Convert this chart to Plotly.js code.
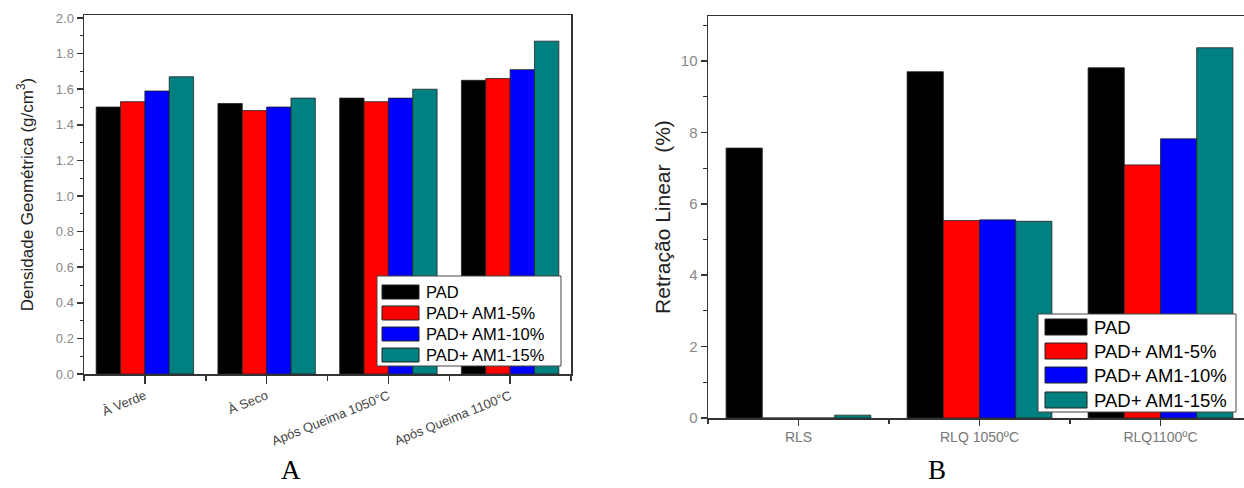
<!DOCTYPE html>
<html>
<head>
<meta charset="utf-8">
<script src="https://cdn.plot.ly/plotly-3.0.1.min.js"></script>
<style>
html,body{margin:0;padding:0;overflow:hidden;background:#fff;width:1244px;height:488px;}
#chart{width:1260px;height:488px;}
</style>
</head>
<body>
<div id="chart"></div>
<script>
// ---- Data ----
const seriesNames = ["PAD", "PAD+ AM1-5%", "PAD+ AM1-10%", "PAD+ AM1-15%"];
const seriesColors = ["#000000", "#ff0000", "#0000ff", "#008080"];

// Chart A: Densidade Geométrica
const catsA = ["À Verde", "À Seco", "Após Queima 1050°C", "Após Queima 1100°C"];
const padA   = [1.50, 1.52, 1.55, 1.65];
const am5A   = [1.53, 1.48, 1.53, 1.66];
const am10A  = [1.59, 1.50, 1.55, 1.71];
const am15A  = [1.67, 1.55, 1.60, 1.87];

// Chart B: Retração Linear
const catsB = ["RLS", "RLQ 1050ºC", "RLQ1100ºC"];
const padB   = [7.56, 9.70, 9.81];
const am5B   = [0.00, 5.53, 7.09];
const am10B  = [0.00, 5.55, 7.82];
const am15B  = [0.08, 5.51, 10.37];

const seriesA = [padA, am5A, am10A, am15A];
const seriesB = [padB, am5B, am10B, am15B];

// ---- Layout helpers ----
const W = 1260, H = 488;
const px = x => x / W;
const py = y => 1 - y / H;

const traces = [];
seriesA.forEach((vals, i) => {
  traces.push({
    type: "bar", x: catsA.map((_, k) => k), y: vals, name: seriesNames[i],
    xaxis: "x", yaxis: "y", showlegend: false,
    marker: {color: seriesColors[i], line: {color: "#222", width: 0.8}},
    hoverinfo: "y"
  });
});
seriesB.forEach((vals, i) => {
  traces.push({
    type: "bar", x: catsB.map((_, k) => k), y: vals, name: seriesNames[i],
    xaxis: "x2", yaxis: "y2", showlegend: false,
    marker: {color: seriesColors[i], line: {color: "#222", width: 0.8}},
    hoverinfo: "y"
  });
});

const fontBase = "'Liberation Sans', Arial, sans-serif";
const fontSerif = "'Liberation Serif', 'Times New Roman', serif";

function legendShapes(box, symX0, symX1, symH, centers) {
  const s = [{
    type: "rect", xref: "paper", yref: "paper", layer: "above",
    x0: px(box[0]), x1: px(box[1]), y0: py(box[3]), y1: py(box[2]),
    fillcolor: "#ffffff", line: {color: "#444", width: 1}
  }];
  centers.forEach((c, i) => {
    s.push({
      type: "rect", xref: "paper", yref: "paper", layer: "above",
      x0: px(symX0), x1: px(symX1), y0: py(c + symH / 2), y1: py(c - symH / 2),
      fillcolor: seriesColors[i], line: {color: "#222", width: 1}
    });
  });
  return s;
}
function legendAnnots(textX, centers, size) {
  return centers.map((c, i) => ({
    xref: "paper", yref: "paper", x: px(textX), y: py(c),
    xanchor: "left", yanchor: "middle", showarrow: false,
    text: seriesNames[i], font: {family: fontBase, size: size, color: "#000"}
  }));
}

const legACenters = [292, 313, 334, 355];
const legBCenters = [327, 351, 375, 400];

const shapes = []
  .concat(legendShapes([377, 561, 276, 366], 382, 419, 14, legACenters))
  .concat(legendShapes([1038, 1236, 314, 412], 1045, 1087, 16, legBCenters));

const annotations = []
  .concat(legendAnnots(424, legACenters, 16.5))
  .concat(legendAnnots(1092, legBCenters, 18.5))
  .concat([
    {xref: "paper", yref: "paper", x: px(291), y: py(487), xanchor: "center", yanchor: "bottom",
     showarrow: false, text: "A", font: {family: fontSerif, size: 27, color: "#000"}},
    {xref: "paper", yref: "paper", x: px(937), y: py(487), xanchor: "center", yanchor: "bottom",
     showarrow: false, text: "B", font: {family: fontSerif, size: 27, color: "#000"}}
  ]);

const axisCommon = {
  showgrid: false, zeroline: false, showline: true, linecolor: "#333", linewidth: 1.5,
  ticks: "outside", tickcolor: "#333", tickwidth: 1.5
};

const layout = {
  width: W, height: H,
  margin: {l: 0, r: 0, t: 0, b: 0},
  paper_bgcolor: "#fff", plot_bgcolor: "#fff",
  barmode: "group", bargap: 0.2, bargroupgap: 0,
  showlegend: false,
  xaxis: Object.assign({}, axisCommon, {
    domain: [px(84), px(571)], anchor: "y", mirror: true,
    range: [-0.5, 3.5], tickvals: catsA.map((_, k) => k), ticktext: catsA,
    tickangle: -22, ticklen: 8,
    tickfont: {family: fontBase, size: 13, color: "#444"},
    minor: {tick0: 0.5, dtick: 1, ticks: "outside", ticklen: 5, tickcolor: "#333", tickwidth: 1.5}
  }),
  yaxis: Object.assign({}, axisCommon, {
    domain: [py(374), py(15)], anchor: "x", mirror: true,
    range: [0, 2.017], tickvals: [0, 0.2, 0.4, 0.6, 0.8, 1.0, 1.2, 1.4, 1.6, 1.8, 2.0],
    tickformat: ".1f", ticklen: 6,
    tickfont: {family: fontBase, size: 13, color: "#888"},
    minor: {dtick: 0.1, ticks: "outside", ticklen: 3, tickcolor: "#333", tickwidth: 1},
    title: {text: "Densidade Geométrica (g/cm<sup>3</sup>)", standoff: 18,
            font: {family: fontBase, size: 17, color: "#222"}}
  }),
  xaxis2: Object.assign({}, axisCommon, {
    domain: [px(708), px(1251)], anchor: "y2", mirror: true,
    range: [-0.5, 2.5], tickvals: catsB.map((_, k) => k), ticktext: catsB,
    ticklen: 6,
    tickfont: {family: fontBase, size: 14, color: "#777"},
    minor: {tick0: 0.5, dtick: 1, ticks: "outside", ticklen: 4, tickcolor: "#333", tickwidth: 1.5}
  }),
  yaxis2: Object.assign({}, axisCommon, {
    domain: [py(418), py(16)], anchor: "x2", mirror: false,
    range: [0, 11.26], tickvals: [0, 2, 4, 6, 8, 10], ticklen: 6,
    tickfont: {family: fontBase, size: 15, color: "#888"},
    minor: {dtick: 1, ticks: "outside", ticklen: 4, tickcolor: "#333", tickwidth: 1},
    title: {text: "Retração Linear  (%)", standoff: 4,
            font: {family: fontBase, size: 21, color: "#222"}}
  }),
  shapes: shapes,
  annotations: annotations
};

Plotly.newPlot("chart", traces, layout, {staticPlot: true, displayModeBar: false});
</script>
</body>
</html>
